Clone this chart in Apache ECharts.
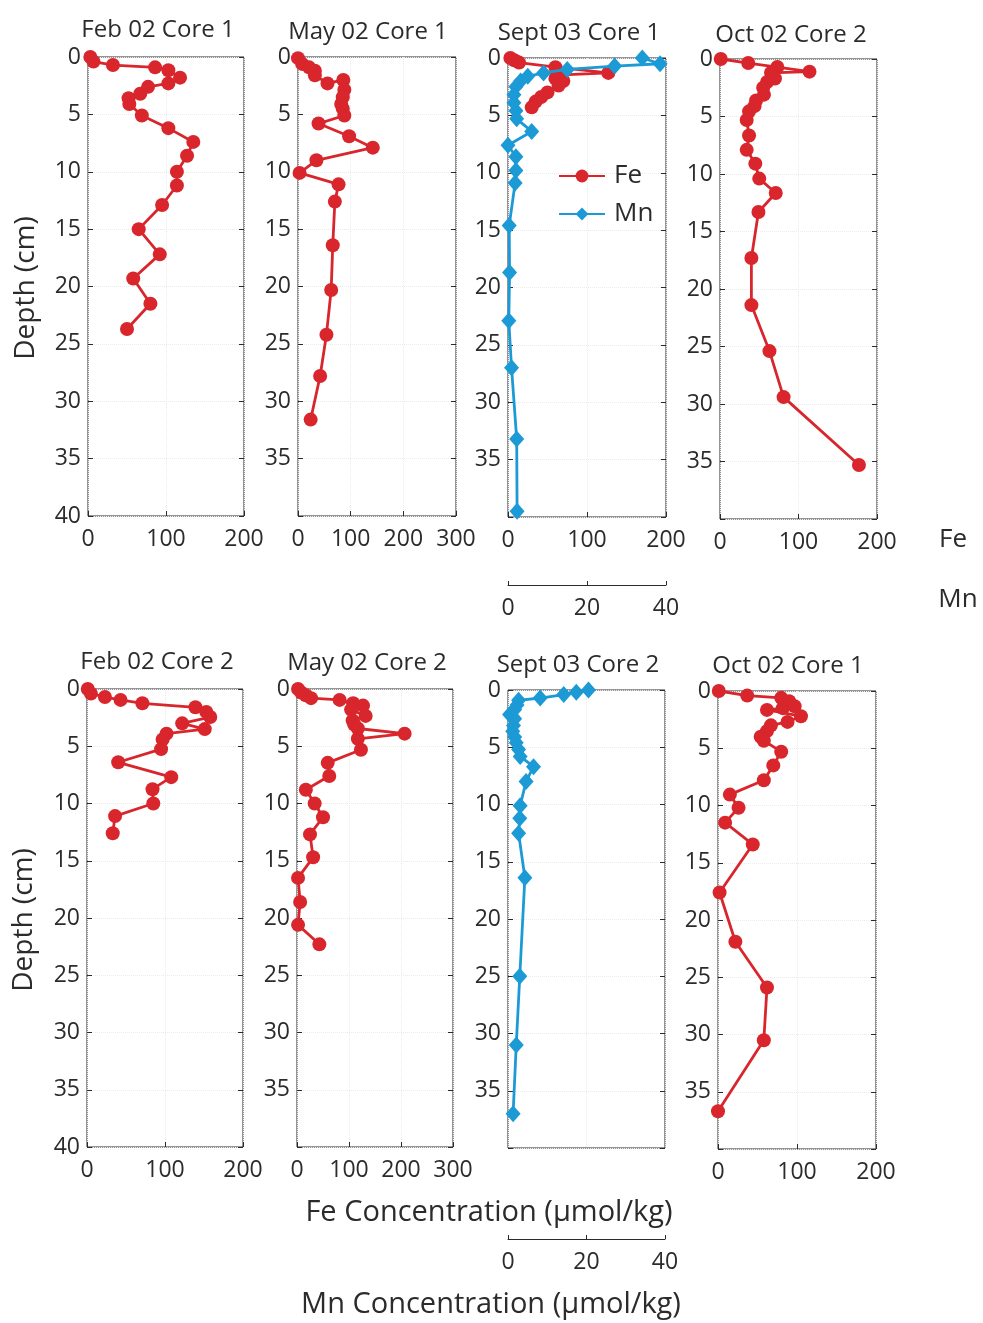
<!DOCTYPE html>
<html>
<head>
<meta charset="utf-8">
<script src="https://cdn.jsdelivr.net/npm/echarts@6/dist/echarts.min.js"></script>
<style>
  html, body { margin: 0; padding: 0; background: #ffffff; }
  #chart { width: 983px; height: 1323px; }
</style>
</head>
<body>
<div id="chart"></div>
<script>
// ---- Pore-water profiles: depth (cm) and concentration (µmol/kg) ----

// Feb 02 Core 1 (Fe)
const feb02c1Depth = [0, 0.4, 0.7, 0.9, 1.15, 1.8, 2.3, 2.6, 3.2, 3.6, 4.1, 5.1, 6.2, 7.4, 8.6, 10.0, 11.2, 12.9, 15.0, 17.2, 19.3, 21.5, 23.7];
const feb02c1Fe    = [3, 7, 32, 86, 103, 118, 103, 77, 67, 52, 53, 69, 103, 135, 127, 114, 114, 95, 65, 92, 58, 80, 50];

// May 02 Core 1 (Fe)
const may02c1Depth = [0.1, 0.6, 0.9, 1.2, 1.6, 2.3, 2.0, 2.85, 3.5, 4.1, 4.5, 5.1, 5.8, 6.9, 7.9, 9.0, 10.1, 11.1, 12.6, 16.4, 20.3, 24.2, 27.8, 31.6];
const may02c1Fe    = [0, 8, 21, 32, 32, 56, 86, 88, 85, 82, 85, 88, 39, 97, 142, 35, 3, 77, 70, 66, 63, 54, 42, 24];

// Sept 03 Core 1 (Fe and Mn)
const sep03c1FeDepth = [0, 0.2, 0.4, 0.8, 1.3, 1.5, 1.8, 2.0, 2.4, 3.0, 3.4, 3.8, 4.3];
const sep03c1Fe      = [3, 8, 14, 60, 127, 62, 60, 70, 64, 50, 42, 35, 30];
const sep03c1MnDepth = [0, 0.5, 0.7, 1.0, 1.3, 1.6, 2.0, 2.5, 3.2, 3.9, 4.6, 5.3, 6.4, 7.6, 8.6, 9.8, 10.9, 14.6, 18.7, 22.9, 27.0, 33.2, 39.5];
const sep03c1Mn      = [34, 38.5, 27, 15, 9, 5, 3.2, 2, 1.5, 1.5, 2, 2.2, 6, 0, 2, 2, 1.8, 0.3, 0.4, 0.2, 0.9, 2.2, 2.3];

// Oct 02 Core 2 (Fe)
const oct02c2Depth = [0, 0.35, 0.7, 1.1, 1.2, 1.7, 2.0, 2.5, 3.1, 3.6, 4.1, 4.55, 5.3, 6.65, 7.9, 9.1, 10.4, 11.65, 13.3, 17.3, 21.4, 25.4, 29.4, 35.3];
const oct02c2Fe    = [1, 36, 73, 114, 65, 70, 60, 55, 56, 46, 44, 37, 34, 37, 34, 45, 50, 71, 49, 40, 40, 63, 81, 177];

// Feb 02 Core 2 (Fe)
const feb02c2Depth = [0, 0.4, 0.7, 0.95, 1.25, 1.6, 2.0, 2.45, 3.0, 3.5, 3.9, 4.4, 5.25, 6.4, 7.7, 8.75, 10.0, 11.1, 12.6];
const feb02c2Fe    = [1, 5, 23, 43, 71, 139, 153, 158, 122, 151, 102, 97, 95, 40, 108, 84, 85, 36, 33];

// May 02 Core 2 (Fe)
const may02c2Depth = [0, 0.3, 0.55, 0.8, 0.95, 1.25, 1.45, 1.8, 2.35, 2.75, 3.1, 3.45, 3.9, 4.35, 5.3, 6.45, 7.6, 8.8, 10.0, 11.2, 12.7, 14.7, 16.5, 18.6, 20.6, 22.3];
const may02c2Fe    = [2, 8, 17, 27, 82, 108, 127, 104, 132, 107, 110, 117, 207, 117, 123, 59, 62, 17, 34, 50, 25, 31, 2, 6, 2, 43];

// Sept 03 Core 2 (Mn)
const sep03c2Depth = [0, 0.2, 0.4, 0.7, 0.9, 1.3, 1.7, 2.15, 2.5, 3.1, 3.6, 4.1, 4.6, 5.2, 5.8, 6.7, 8.0, 10.1, 11.2, 12.5, 16.4, 25.0, 31.0, 37.0];
const sep03c2Mn    = [20.5, 17.4, 14.2, 8.2, 2.7, 2.3, 1.7, 0.4, 1.7, 1.4, 1.2, 1.7, 2.1, 2.7, 3.1, 6.5, 4.6, 3.1, 3.0, 2.7, 4.3, 3.0, 2.1, 1.3];

// Oct 02 Core 1 (Fe)
const oct02c1Depth = [0, 0.4, 0.6, 0.9, 1.33, 1.5, 1.65, 2.2, 2.7, 3.0, 3.5, 4.0, 4.35, 5.3, 6.5, 7.8, 9.05, 10.2, 11.5, 13.4, 17.6, 21.9, 25.9, 30.5, 36.7];
const oct02c1Fe    = [1, 37, 80, 90, 97, 82, 62, 105, 88, 67, 62, 54, 58, 80, 70, 58, 15, 26, 9, 44, 2, 22, 62, 58, 0];

// Axis ranges and tick steps
const depthRange = [0, 40];
const depthStep = 5;
const mnRange = [0, 40];
const mnStep = 20;
const feStep = 100;

// ---- Styling ----
const FONT = '"Open Sans", "Noto Sans", "DejaVu Sans", sans-serif';
const INK = '#2b2b2b';
const RED = '#d8262c';
const BLUE = '#1c9ad6';

// Panel placement (pixels) and which profiles each panel carries
const panels = [
  { title: 'Feb 02 Core 1', left: 88,  top: 57,  width: 156, height: 459, tx: 153, ty: 25, feMax: 200, showDepthMax: true,
    profiles: [{ name: 'Fe (Feb 02 Core 1)', kind: 'fe', depth: feb02c1Depth, value: feb02c1Fe }] },
  { title: 'May 02 Core 1', left: 298, top: 57,  width: 158, height: 459, tx: 363, ty: 27, feMax: 300,
    profiles: [{ name: 'Fe (May 02 Core 1)', kind: 'fe', depth: may02c1Depth, value: may02c1Fe }] },
  { title: 'Sept 03 Core 1', left: 508, top: 58, width: 158, height: 459, tx: 574, ty: 28, feMax: 200, mnOffset: 68,
    profiles: [{ name: 'Fe', kind: 'fe', depth: sep03c1FeDepth, value: sep03c1Fe },
               { name: 'Mn', kind: 'mn', depth: sep03c1MnDepth, value: sep03c1Mn }] },
  { title: 'Oct 02 Core 2', left: 720, top: 59,  width: 157, height: 460, tx: 786, ty: 30, feMax: 200,
    profiles: [{ name: 'Fe (Oct 02 Core 2)', kind: 'fe', depth: oct02c2Depth, value: oct02c2Fe }] },
  { title: 'Feb 02 Core 2', left: 87,  top: 689, width: 156, height: 458, tx: 152, ty: 657, feMax: 200, showDepthMax: true,
    profiles: [{ name: 'Fe (Feb 02 Core 2)', kind: 'fe', depth: feb02c2Depth, value: feb02c2Fe }] },
  { title: 'May 02 Core 2', left: 297, top: 689, width: 156, height: 458, tx: 362, ty: 658, feMax: 300,
    profiles: [{ name: 'Fe (May 02 Core 2)', kind: 'fe', depth: may02c2Depth, value: may02c2Fe }] },
  { title: 'Sept 03 Core 2', left: 508, top: 690, width: 157, height: 458, tx: 573, ty: 660, feMax: 200, mnOffset: 91, hideFe: true,
    profiles: [{ name: 'Mn (Sept 03 Core 2)', kind: 'mn', depth: sep03c2Depth, value: sep03c2Mn }] },
  { title: 'Oct 02 Core 1', left: 718, top: 691, width: 158, height: 458, tx: 783, ty: 661, feMax: 200,
    profiles: [{ name: 'Fe (Oct 02 Core 1)', kind: 'fe', depth: oct02c1Depth, value: oct02c1Fe }] }
];

const labelStyle = { color: INK, fontSize: 23, fontFamily: FONT };
const faintGrid = { show: true, lineStyle: { color: '#ebebeb', type: 'dotted', width: 1 } };

const grid = [], xAxis = [], yAxis = [], series = [], title = [];

panels.forEach((p, gi) => {
  grid.push({ left: p.left, top: p.top, width: p.width, height: p.height,
              show: true, borderColor: INK, borderWidth: 1, backgroundColor: 'transparent' });

  title.push({ text: p.title, left: p.tx, top: p.ty, textAlign: 'center', textVerticalAlign: 'middle',
               textStyle: { color: INK, fontSize: 24, fontWeight: 'normal', fontFamily: FONT } });

  const feIdx = xAxis.length;
  xAxis.push({
    type: 'value', gridIndex: gi, position: 'bottom', min: 0, max: p.feMax, interval: feStep,
    axisLine: { show: false, onZero: false },
    axisTick: { show: !p.hideFe, inside: true, length: 5, lineStyle: { color: INK } },
    axisLabel: Object.assign({ show: !p.hideFe, margin: 12, showMinLabel: true, showMaxLabel: true }, labelStyle),
    splitLine: faintGrid
  });

  let mnIdx = null;
  if (p.mnOffset != null) {
    mnIdx = xAxis.length;
    xAxis.push({
      type: 'value', gridIndex: gi, position: 'bottom', offset: p.mnOffset,
      min: mnRange[0], max: mnRange[1], interval: mnStep,
      axisLine: { show: true, onZero: false, lineStyle: { color: INK, width: 1 } },
      axisTick: { show: true, inside: true, length: 4, lineStyle: { color: INK } },
      axisLabel: Object.assign({ margin: 12, showMinLabel: true, showMaxLabel: true }, labelStyle),
      splitLine: { show: false }
    });
  }

  const yIdx = yAxis.length;
  yAxis.push({
    type: 'value', gridIndex: gi, position: 'left', inverse: true,
    min: depthRange[0], max: depthRange[1], interval: depthStep,
    axisLine: { show: false, onZero: false },
    axisTick: { inside: true, length: 5, lineStyle: { color: INK } },
    axisLabel: Object.assign({
      margin: 7, showMinLabel: true, showMaxLabel: true,
      formatter: v => (v === depthRange[1] && !p.showDepthMax) ? '' : String(v)
    }, labelStyle),
    splitLine: faintGrid
  });
  // mirrored ticks on the right edge of the box
  yAxis.push({
    type: 'value', gridIndex: gi, position: 'right', inverse: true,
    min: depthRange[0], max: depthRange[1], interval: depthStep,
    axisLine: { show: false, onZero: false },
    axisTick: { inside: true, length: 5, lineStyle: { color: INK } },
    axisLabel: { show: false },
    splitLine: { show: false }
  });

  p.profiles.forEach(pr => {
    const isFe = pr.kind === 'fe';
    const color = isFe ? RED : BLUE;
    series.push({
      name: pr.name,
      type: 'line',
      xAxisIndex: isFe ? feIdx : mnIdx,
      yAxisIndex: yIdx,
      data: pr.depth.map((d, i) => [pr.value[i], d]),
      symbol: isFe ? 'circle' : 'diamond',
      symbolSize: isFe ? 14 : [15, 17],
      showAllSymbol: true,
      clip: false,
      z: isFe ? 3 : 4,
      itemStyle: { color: color, borderWidth: 0 },
      lineStyle: { color: color, width: 2.8 },
      emphasis: { disabled: true }
    });
  });
});

const textEl = (txt, x, y, size, rot) => ({
  type: 'text', x: x, y: y, rotation: rot || 0, silent: true,
  style: { text: txt, fill: INK, font: `${size}px ${FONT}`, textAlign: 'center', textVerticalAlign: 'middle' }
});

const option = {
  animation: false,
  backgroundColor: '#ffffff',
  title: title,
  grid: grid,
  xAxis: xAxis,
  yAxis: yAxis,
  series: series,
  legend: {
    data: ['Fe', 'Mn'],
    orient: 'vertical',
    left: 553, top: 158,
    itemWidth: 46, itemHeight: 16, itemGap: 12,
    selectedMode: false,
    textStyle: { color: INK, fontSize: 26, fontFamily: FONT, padding: [0, 0, 0, 4] }
  },
  graphic: [
    textEl('Depth (cm)', 26, 288, 28, Math.PI / 2),
    textEl('Depth (cm)', 24, 920, 28, Math.PI / 2),
    textEl('Fe', 953, 540, 26),
    textEl('Mn', 958, 600, 26),
    textEl('Fe Concentration (µmol/kg)', 489, 1213, 29),
    textEl('Mn Concentration (µmol/kg)', 491, 1305, 29)
  ]
};

const chart = echarts.init(document.getElementById('chart'), null, { renderer: 'canvas' });
chart.setOption(option);
</script>
</body>
</html>
